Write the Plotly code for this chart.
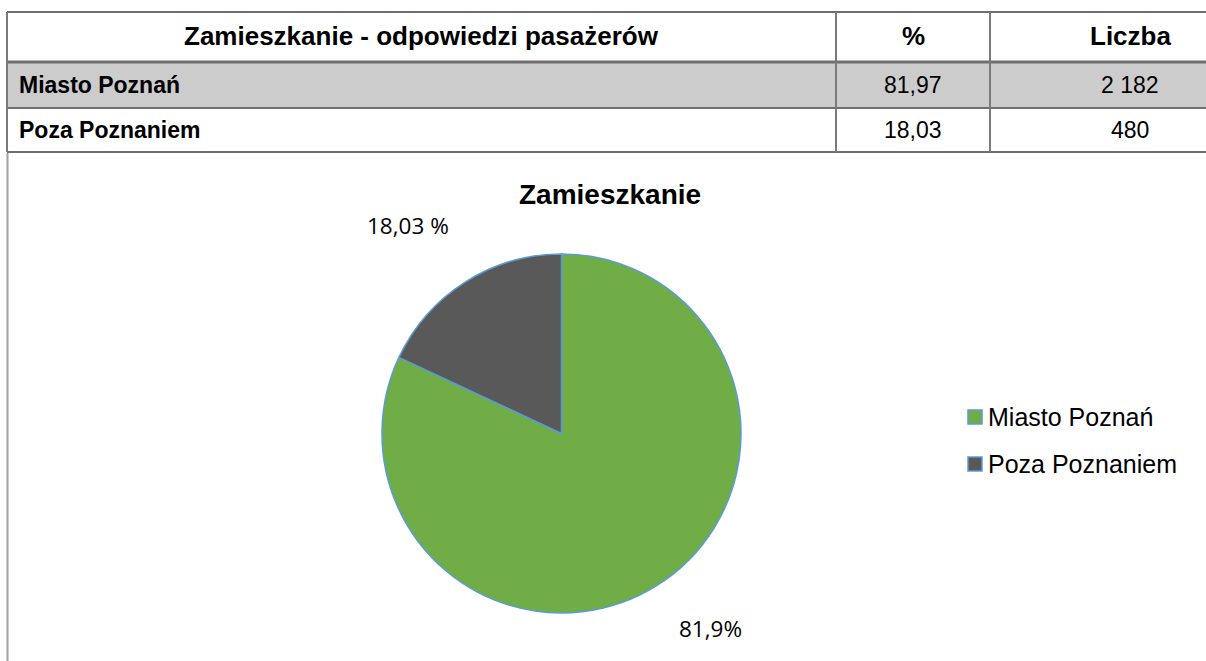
import plotly.graph_objects as go

# table data
header = ["Zamieszkanie - odpowiedzi pasażerów", "%", "Liczba"]
places = ["Miasto Poznań", "Poza Poznaniem"]
percents = ["81,97", "18,03"]
counts = ["2 182", "480"]

# pie data
pie_values = [81.97, 18.03]
pie_labels_text = ["81,9%", "18,03 %"]
colors = ["#70AD47", "#595959"]

W, H = 1206, 661


def px(x):
    return x / W


def py(y):
    return 1 - y / H


fig = go.Figure()

fig.add_trace(
    go.Pie(
        values=pie_values,
        labels=places,
        sort=False,
        direction="clockwise",
        rotation=0,
        marker=dict(colors=colors, line=dict(color="#5B9BD5", width=1.5)),
        textinfo="none",
        hoverinfo="label+percent",
        showlegend=False,
        domain=dict(x=[px(382), px(741)], y=[py(613), py(254)]),
    )
)

shapes = []
annotations = []

# table grid
col_x = [7, 836, 990, 1270]
row_y = [12, 62, 108, 152]
shapes.append(dict(type="rect", x0=px(7), x1=px(1230), y0=py(62), y1=py(108),
                   fillcolor="#CCCCCC", line=dict(width=0), layer="below"))
for i, y in enumerate(row_y):
    shapes.append(dict(type="line", x0=px(7), x1=px(1230), y0=py(y), y1=py(y),
                       line=dict(color="#6E6E6E", width=3 if i == 1 else 2)))
for x in col_x[:3]:
    shapes.append(dict(type="line", x0=px(x), x1=px(x), y0=py(12), y1=py(152),
                       line=dict(color="#7A7A7A", width=2)))
# left border continuing below the table
shapes.append(dict(type="line", x0=px(7.5), x1=px(7.5), y0=py(153), y1=py(661),
                   line=dict(color="#A0A0A0", width=2)))

for j, txt in enumerate(header):
    annotations.append(dict(text="<b>%s</b>" % txt, x=px((col_x[j] + col_x[j + 1]) / 2),
                            y=py(36), xanchor="center", yanchor="middle", showarrow=False,
                            font=dict(size=26, color="#000000")))
for i in range(len(places)):
    yc = (row_y[i + 1] + row_y[i + 2]) / 2
    annotations.append(dict(text="<b>%s</b>" % places[i], x=px(17), y=py(yc),
                            xanchor="left", yanchor="middle", showarrow=False,
                            font=dict(size=23, color="#000000")))
    annotations.append(dict(text=percents[i], x=px((col_x[1] + col_x[2]) / 2), y=py(yc),
                            xanchor="center", yanchor="middle", showarrow=False,
                            font=dict(size=23, color="#000000")))
    annotations.append(dict(text=counts[i], x=px((col_x[2] + col_x[3]) / 2), y=py(yc),
                            xanchor="center", yanchor="middle", showarrow=False,
                            font=dict(size=23, color="#000000")))

# chart title
annotations.append(dict(text="<b>Zamieszkanie</b>", x=px(610), y=py(194), xanchor="center",
                        yanchor="middle", showarrow=False, font=dict(size=28, color="#000000")))

# data labels
label_pos = [(710, 628), (408, 225)]
for t, (lx, ly) in zip(pie_labels_text, label_pos):
    annotations.append(dict(text=t, x=px(lx), y=py(ly), xanchor="center", yanchor="middle",
                            showarrow=False, font=dict(size=22.5, color="#000000", family="Open Sans")))

# legend
for k, name in enumerate(places):
    yc = 417 + k * 47
    shapes.append(dict(type="rect", x0=px(968), x1=px(982), y0=py(yc + 7), y1=py(yc - 7),
                       fillcolor=colors[k], line=dict(color="#5B9BD5", width=1.5)))
    annotations.append(dict(text=name, x=px(986), y=py(yc), xanchor="left", yanchor="middle",
                            showarrow=False, font=dict(size=25, color="#000000")))

fig.update_layout(
    width=W,
    height=H,
    margin=dict(l=0, r=0, t=0, b=0),
    paper_bgcolor="white",
    plot_bgcolor="white",
    font=dict(family="Liberation Sans, Arial, sans-serif", color="#000000"),
    shapes=shapes,
    annotations=annotations,
)

fig.write_html(
    "out.html",
    config={"displayModeBar": False},
    post_script="document.body.style.margin='0px';",
)
